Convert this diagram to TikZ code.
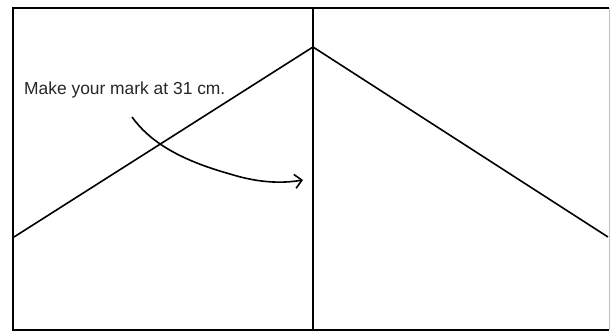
\documentclass[tikz,border=0pt]{standalone}
\usepackage{fontspec}
\setmainfont{Liberation Sans}
\usetikzlibrary{arrows.meta}

\begin{document}
\begin{tikzpicture}[x=1pt, y=-1pt]
        \tikzset{frame/.style = {line width=2pt, black},
                 rafter/.style = {line width=1.6pt, black},
                 hint/.style = {line width=1.6pt, black, -{Straight Barb[length=7pt, width=14pt, line width=1.6pt]}}}

        \useasboundingbox (0, 0) rectangle (610, 331);

        \coordinate (tl) at (13, 8);
        \coordinate (tr) at (609, 8);
        \coordinate (bl) at (13, 330);
        \coordinate (br) at (609, 330);
        \coordinate (mt) at (313, 8);
        \coordinate (mb) at (313, 330);

        \coordinate (apex) at (313, 47);
        \coordinate (left) at (14, 237);
        \coordinate (right) at (608, 237);

        \coordinate (start) at (132, 117);
        \coordinate (bend) at (230, 174);
        \coordinate (tip) at (303, 180);

        \node[anchor=base west, inner sep=0pt, font=\fontsize{17.4}{19}\selectfont, text=black!85] (mark) at (24, 95) {Make your mark at 31 cm.};

        \draw[frame] (tr) -- (tl) -- (bl) -- (br);
        \draw[frame, black!25, line width=1pt] (tr) -- (br);
        \draw[frame] (mt) -- (mb);

        \draw[rafter] (left) -- (apex);
        \draw[rafter] (apex) -- (right);

        \draw[hint] (start) .. controls (150, 142) and (180, 160) .. (bend)
                    .. controls (262, 184) and (285, 183) .. (tip);

    \end{tikzpicture}
\end{document}
